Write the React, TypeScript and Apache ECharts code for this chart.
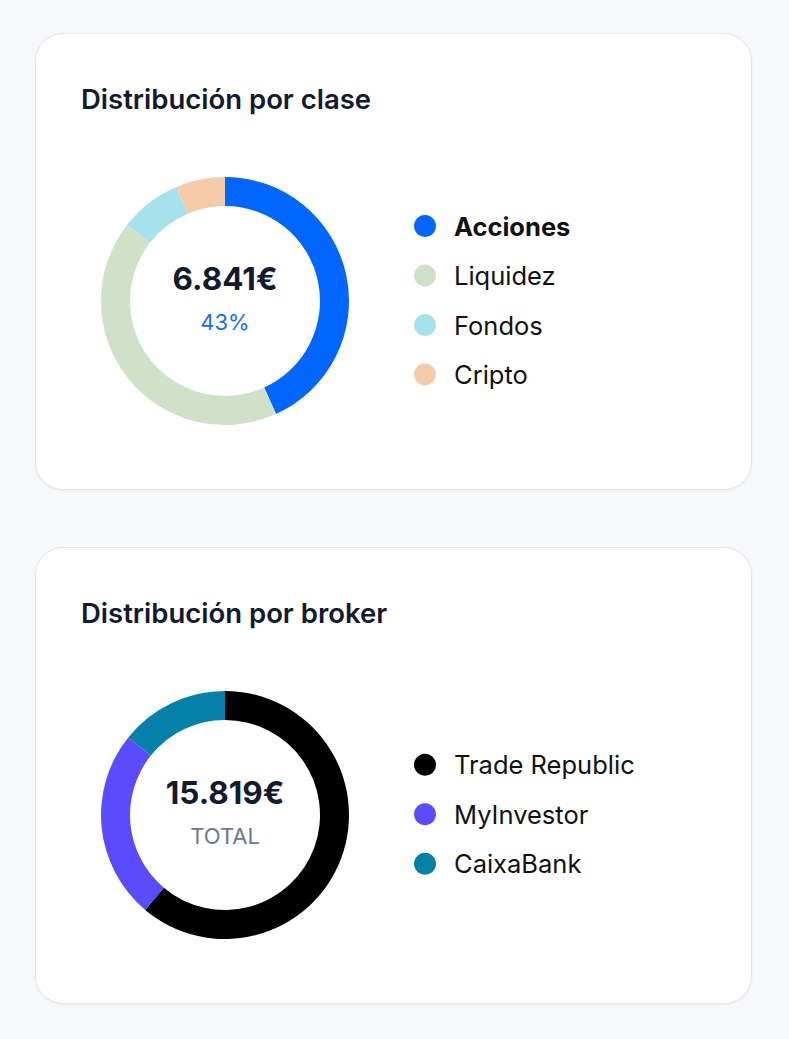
import { useEffect, useRef } from 'react';
import * as echarts from 'echarts';

// portfolio split by asset class (EUR)
const classNames = ['Acciones', 'Liquidez', 'Fondos', 'Cripto'];
const classValues = [6841, 6690, 1270, 1018];
const classColors = ['#0066FF', '#CFE2C8', '#A6E2EC', '#F6CBAA'];

// portfolio split by broker (EUR)
const brokerNames = ['Trade Republic', 'MyInvestor', 'CaixaBank'];
const brokerValues = [9670, 3895, 2254];
const brokerColors = ['#000000', '#5B4BFF', '#0580A8'];

const FONT = 'Inter, "Noto Sans", sans-serif';

const euro = (v: number) => String(Math.round(v)).replace(/\B(?=(\d{3})+(?!\d))/g, '.') + '€';

interface CardProps {
    title: string;
    names: string[];
    values: number[];
    colors: string[];
    top: number;
    // index of the highlighted slice, or -1 to show the total
    focus: number;
}

const DonutCard = ({ title, names, values, colors, top, focus }: CardProps) => {
    const chartRef = useRef<HTMLDivElement>(null);

    useEffect(() => {
        if (!chartRef.current) return;
        const myChart = echarts.init(chartRef.current, null, { renderer: 'svg' });

        const total = values.reduce((a, b) => a + b, 0);
        const mainText = focus >= 0 ? euro(values[focus]) : euro(total);
        const subText = focus >= 0 ? Math.round((values[focus] / total) * 100) + '%' : 'TOTAL';
        const subColor = focus >= 0 ? '#1B6FE8' : '#6B7890';

        const cx = 189;
        const cy = 267;
        // legend rows are ~49.5px apart, block centred on the donut
        const legendTop = cy + 6 - names.length * 24.75;

        const option = {
            animation: false,
            title: {
                text: title,
                left: 40,
                top: 46,
                textStyle: {
                    fontFamily: FONT,
                    fontSize: 27.5,
                    fontWeight: 600,
                    color: '#111A2E'
                }
            },
            legend: {
                orient: 'vertical',
                left: 373,
                top: legendTop,
                icon: 'circle',
                itemWidth: 22,
                itemHeight: 22,
                itemGap: 23.5,
                selectedMode: false,
                data: names,
                formatter: (name: string) => (names.indexOf(name) === focus ? `{b|${name}}` : name),
                textStyle: {
                    fontFamily: FONT,
                    fontSize: 25.5,
                    color: '#111111',
                    padding: [0, 0, 0, 13],
                    rich: {
                        b: {
                            fontFamily: FONT,
                            fontSize: 25.5,
                            fontWeight: 700,
                            color: '#111111'
                        }
                    }
                }
            },
            graphic: [
                {
                    type: 'text',
                    x: cx,
                    y: cy - 23,
                    style: {
                        text: mainText,
                        fontFamily: FONT,
                        fontSize: 31.5,
                        fontWeight: 700,
                        fill: '#111A2E',
                        textAlign: 'center',
                        textVerticalAlign: 'middle'
                    }
                },
                {
                    type: 'text',
                    x: cx,
                    y: cy + 21,
                    style: {
                        text: subText,
                        fontFamily: FONT,
                        fontSize: 22,
                        fontWeight: 400,
                        fill: subColor,
                        textAlign: 'center',
                        textVerticalAlign: 'middle'
                    }
                }
            ],
            series: [
                {
                    type: 'pie',
                    center: [cx, cy],
                    radius: [95, 124],
                    startAngle: 90,
                    clockwise: true,
                    silent: true,
                    label: { show: false },
                    labelLine: { show: false },
                    itemStyle: { borderWidth: 0 },
                    data: names.map((n, i) => ({
                        name: n,
                        value: values[i],
                        itemStyle: { color: colors[i] }
                    }))
                }
            ]
        };

        myChart.setOption(option);

        return () => {
            myChart.dispose();
        };
    }, [title, names, values, colors, focus]);

    return (
        <div
            style={{
                position: 'absolute',
                left: 35,
                top,
                width: 717,
                height: 457,
                boxSizing: 'border-box',
                background: '#FFFFFF',
                border: '1px solid #E1E5EC',
                borderRadius: 28,
                boxShadow: '0 1px 3px rgba(20, 30, 60, 0.05)'
            }}
        >
            <div ref={chartRef} style={{ width: '100%', height: '100%' }} />
        </div>
    );
};

const App = () => {
    useEffect(() => {
        document.body.style.margin = '0';
        document.body.style.background = '#F7F8FB';
    }, []);

    return (
        <div style={{ position: 'relative', width: 789, height: 1039, background: '#F7F8FB' }}>
            <DonutCard
                title="Distribución por clase"
                names={classNames}
                values={classValues}
                colors={classColors}
                top={33}
                focus={0}
            />
            <DonutCard
                title="Distribución por broker"
                names={brokerNames}
                values={brokerValues}
                colors={brokerColors}
                top={547}
                focus={-1}
            />
        </div>
    );
};

export default App;
